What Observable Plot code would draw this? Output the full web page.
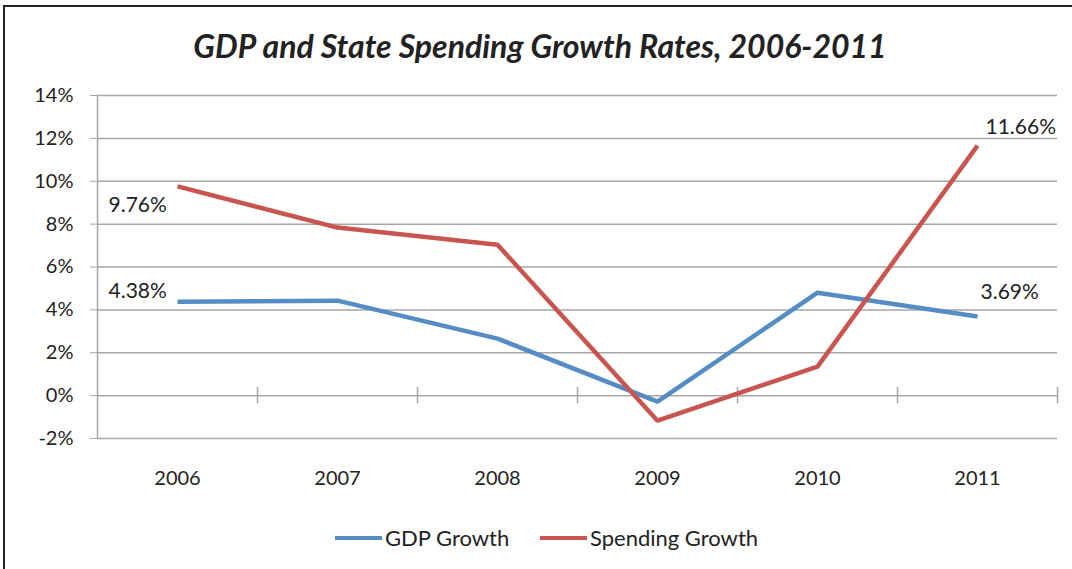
<!DOCTYPE html>
<html><head><meta charset="utf-8">
<script src="https://cdn.jsdelivr.net/npm/d3@7"></script>
<script src="https://cdn.jsdelivr.net/npm/@observablehq/plot@0.6"></script>
<style>
body{margin:0;background:#fff;font-family:Lato,"Open Sans",sans-serif;}
#wrap{position:relative;width:1072px;height:569px;overflow:hidden;}
#frame{position:absolute;left:3px;top:5px;width:1080px;height:580px;border:2px solid #222;box-sizing:border-box;}
#title{position:absolute;left:0;width:1080px;top:26px;text-align:center;font-size:32px;font-weight:bold;font-style:italic;color:#222;}
#chart{position:absolute;left:0;top:0;}
#legend{position:absolute;top:524px;left:0;width:1072px;font-size:22px;color:#222;}
.item{position:absolute;display:flex;align-items:center;}
.sw{display:inline-block;width:47px;height:4px;margin-right:3px;}
</style></head>
<body><div id="wrap"><div id="frame"></div><div id="title">GDP and State Spending Growth Rates, 2006-2011</div><div id="chart"></div><div id="legend"></div></div>
<script>
const years = [2006, 2007, 2008, 2009, 2010, 2011];
const gdpGrowth = [4.38, 4.43, 2.66, -0.28, 4.80, 3.69];
const spendingGrowth = [9.76, 7.84, 7.04, -1.17, 1.35, 11.66];
const yTicks = [-2, 0, 2, 4, 6, 8, 10, 12, 14];
const seriesNames = ["GDP Growth", "Spending Growth"];
const colors = ["#548cc3", "#c8554f"];

const rows = [];
years.forEach((y, i) => {
  rows.push({year: y, value: gdpGrowth[i], series: seriesNames[0]});
  rows.push({year: y, value: spendingGrowth[i], series: seriesNames[1]});
});
const boundaries = years.map(y => y + 0.5);
const labels = [
  {year: years[0], value: spendingGrowth[0], dx: -69, dy: 19},
  {year: years[0], value: gdpGrowth[0], dx: -69, dy: -10},
  {year: years[5], value: spendingGrowth[5], dx: 8, dy: -18},
  {year: years[5], value: gdpGrowth[5], dx: 3, dy: -24}
];

const plot = Plot.plot({
  width: 1072, height: 569,
  marginLeft: 97, marginRight: 15, marginTop: 95, marginBottom: 131,
  style: {fontFamily: "Lato, 'Open Sans', sans-serif", fontSize: "20px", color: "#222", background: "transparent"},
  x: {domain: [2005.5, 2011.5], label: null},
  y: {domain: [-2, 14], label: null},
  color: {domain: seriesNames, range: colors},
  marks: [
    Plot.ruleY(yTicks, {stroke: "#a6a6a6", strokeWidth: 1.5}),
    Plot.ruleX([2005.5], {y1: -2, y2: 14, stroke: "#a6a6a6", strokeWidth: 1.5}),
    Plot.ruleX(boundaries, {y1: -0.38, y2: 0.38, stroke: "#a6a6a6", strokeWidth: 1.5}),
    Plot.axisY({ticks: yTicks, tickFormat: d => d + "%", tickSize: 7, tickPadding: 17, stroke: "#a6a6a6", fontSize: 20}),
    Plot.axisX({ticks: years, tickFormat: d3.format("d"), tickSize: 0, tickPadding: 32, fontSize: 20}),
    Plot.line(rows, {x: "year", y: "value", z: "series", stroke: "series", strokeWidth: 4.5, strokeLinejoin: "miter", strokeLinecap: "butt"}),
    Plot.text(labels, {x: "year", y: "value", text: d => d.value.toFixed(2) + "%", textAnchor: "start", fontSize: 21, fill: "#222"})
  ]
});
const svg = plot;
document.getElementById("chart").appendChild(svg);
svg.querySelectorAll("g[aria-label='text'] text").forEach((t, i) => {
  const l = labels[i];
  t.setAttribute("transform", (t.getAttribute("transform") || "") + ` translate(${l.dx},${l.dy})`);
});

const legend = document.getElementById("legend");
const lpos = [335, 540];
seriesNames.forEach((s, i) => {
  const d = document.createElement("div");
  d.className = "item";
  d.style.left = lpos[i] + "px";
  d.innerHTML = `<span class="sw" style="background:${colors[i]}"></span><span>${s}</span>`;
  legend.appendChild(d);
});
</script></body></html>
